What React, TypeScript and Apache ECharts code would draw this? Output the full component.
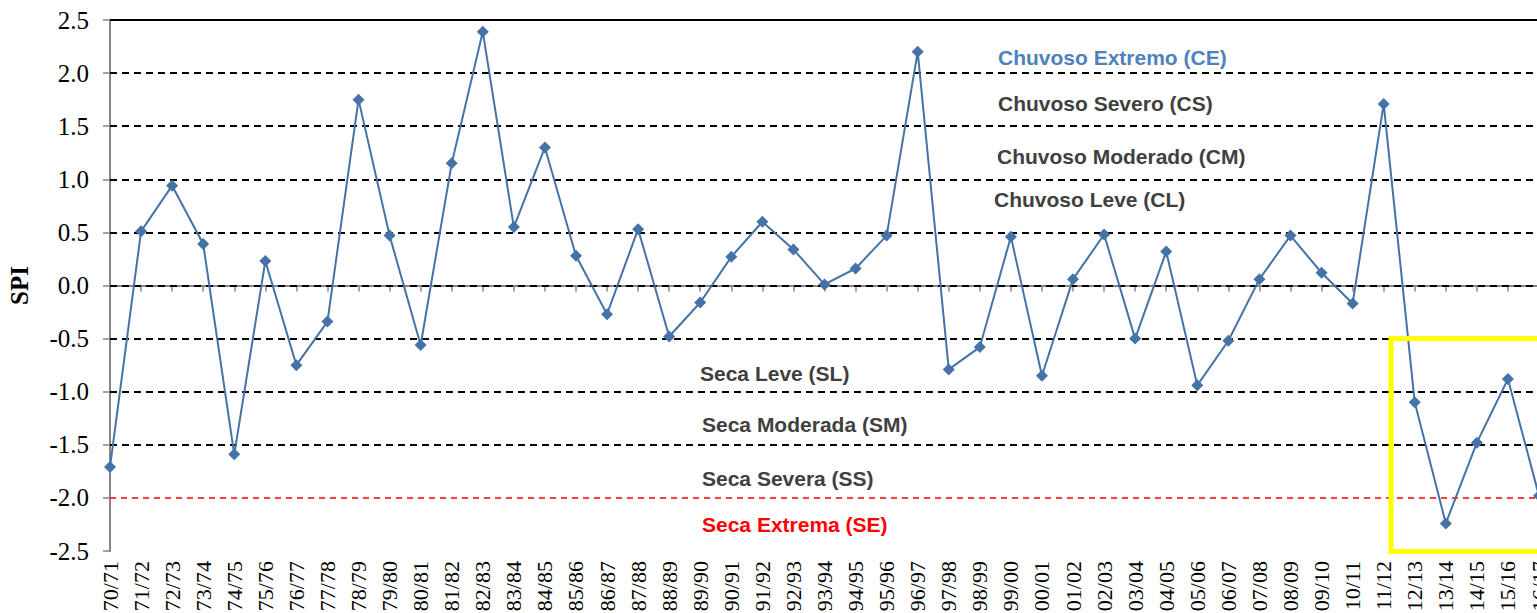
import React, { useEffect, useRef } from "react";
import * as echarts from "echarts";

const categories = [
  "70/71", "71/72", "72/73", "73/74", "74/75", "75/76", "76/77", "77/78", "78/79", "79/80",
  "80/81", "81/82", "82/83", "83/84", "84/85", "85/86", "86/87", "87/88", "88/89", "89/90",
  "90/91", "91/92", "92/93", "93/94", "94/95", "95/96", "96/97", "97/98", "98/99", "99/00",
  "00/01", "01/02", "02/03", "03/04", "04/05", "05/06", "06/07", "07/08", "08/09", "09/10",
  "10/11", "11/12", "12/13", "13/14", "14/15", "15/16", "16/17",
];

const spi = [
  -1.71, 0.51, 0.94, 0.39, -1.59, 0.23, -0.75, -0.34, 1.75, 0.47,
  -0.56, 1.15, 2.39, 0.55, 1.3, 0.28, -0.27, 0.53, -0.48, -0.16,
  0.27, 0.6, 0.34, 0.01, 0.16, 0.47, 2.2, -0.79, -0.58, 0.46,
  -0.85, 0.06, 0.48, -0.5, 0.32, -0.94, -0.52, 0.06, 0.47, 0.12,
  -0.17, 1.71, -1.1, -2.24, -1.48, -0.88, -1.98,
];

const thresholdsBlack = [-1.5, -1.0, -0.5, 0, 0.5, 1.0, 1.5, 2.0];
const thresholdRed = [-2.0];
const topBorder = [2.5];

const classLabels = [
  "Chuvoso Extremo (CE)",
  "Chuvoso Severo (CS)",
  "Chuvoso Moderado (CM)",
  "Chuvoso Leve (CL)",
  "Seca Leve (SL)",
  "Seca Moderada (SM)",
  "Seca Severa (SS)",
  "Seca Extrema (SE)",
];

export default function App() {
  const ref = useRef<HTMLDivElement>(null);
  useEffect(() => {
    document.body.style.margin = "0";
    const chart = echarts.init(ref.current!, null, { renderer: "svg" });
    const gray = "#404040";
    const labelPos = [
      { x: 998, y: 57, c: "#4F81BD" },
      { x: 998, y: 103, c: gray },
      { x: 997, y: 156, c: gray },
      { x: 994, y: 199, c: gray },
      { x: 700, y: 373, c: gray },
      { x: 702, y: 424, c: gray },
      { x: 702, y: 478, c: gray },
      { x: 702, y: 524, c: "#FF0000" },
    ];
    const dash = [7, 5];
    chart.setOption({
      animation: false,
      backgroundColor: "#ffffff",
      grid: { left: 110, right: -2, top: 20, bottom: 62, containLabel: false, outerBoundsMode: "none" },
      xAxis: {
        type: "category",
        data: categories,
        boundaryGap: false,
        axisLine: { show: true, lineStyle: { color: "#868686", width: 2 } },
        axisTick: { show: true, alignWithLabel: true, length: 6, lineStyle: { color: "#868686", width: 1.5 } },
        axisLabel: {
          rotate: 90,
          interval: 0,
          margin: 10,
          fontFamily: "Liberation Serif, Times New Roman, serif",
          fontSize: 22,
          color: "#000",
        },
        splitLine: { show: false },
      },
      yAxis: {
        type: "value",
        min: -2.5,
        max: 2.5,
        interval: 0.5,
        name: "SPI",
        nameLocation: "middle",
        nameGap: 78,
        nameRotate: 90,
        nameTextStyle: {
          fontFamily: "Liberation Serif, Times New Roman, serif",
          fontWeight: "bold",
          fontSize: 25,
          color: "#000",
        },
        axisLine: { show: true, lineStyle: { color: "#868686", width: 2 } },
        axisTick: { show: true, length: 7, lineStyle: { color: "#868686", width: 1.5 } },
        axisLabel: {
          formatter: (v: number) => v.toFixed(1),
          fontFamily: "Liberation Serif, Times New Roman, serif",
          fontSize: 25,
          color: "#000",
          margin: 21,
        },
        splitLine: { show: false },
      },
      series: [
        {
          type: "line",
          data: spi,
          symbol: "diamond",
          symbolSize: 12,
          lineStyle: { color: "#4573A7", width: 2 },
          itemStyle: { color: "#4573A7" },
          z: 5,
          markLine: {
            silent: true,
            symbol: ["none", "none"],
            label: { show: false },
            z: 2,
            data: [
              ...thresholdsBlack.map((v) => ({ yAxis: v, lineStyle: { color: "#000", width: 2, type: dash } })),
              ...thresholdRed.map((v) => ({ yAxis: v, lineStyle: { color: "#FF0000", width: 1.5, type: [6, 5] } })),
              ...topBorder.map((v) => ({ yAxis: v, lineStyle: { color: "#000", width: 2, type: "solid" } })),
            ],
          },
        },
      ],
      graphic: [
        ...classLabels.map((t, i) => ({
          type: "text",
          x: labelPos[i].x,
          y: labelPos[i].y,
          style: {
            text: t,
            fill: labelPos[i].c,
            font: "bold 21px 'Liberation Sans', Arial, sans-serif",
            textVerticalAlign: "middle",
            verticalAlign: "middle",
          },
          z: 10,
        })),
        {
          type: "rect",
          shape: { x: 1391, y: 338.5, width: 200, height: 213 },
          style: { fill: "none", stroke: "#FFFF00", lineWidth: 5 },
          z: 20,
        },
      ],
    });
    return () => chart.dispose();
  }, []);
  return <div ref={ref} style={{ width: 1537, height: 613 }} />;
}
